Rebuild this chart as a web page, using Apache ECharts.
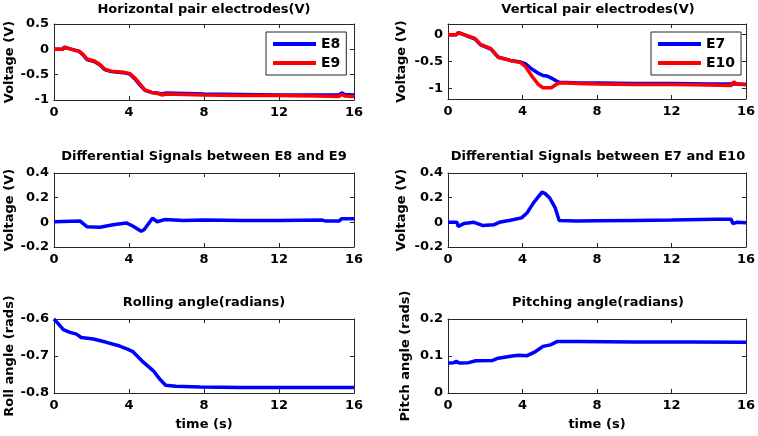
<!DOCTYPE html>
<html><head><meta charset="utf-8">
<script src="https://cdn.jsdelivr.net/npm/echarts@6/dist/echarts.min.js"></script>
<style>html,body{margin:0;padding:0;background:#fff}#c{width:758px;height:436px}</style>
</head><body><div id="c"></div>
<script>
// ---------- data ----------
const xTicks = [0, 4, 8, 12, 16];

const tH = [0, 0.45, 0.55, 0.85, 1.35, 1.55, 1.75, 2.15, 2.45, 2.7, 3.05, 3.7, 4.05, 4.3, 4.6, 4.85, 5.2, 5.5, 5.75, 6.0, 7, 8, 10, 12, 14, 15.2, 15.35, 15.5, 16];
const E8 = [0, 0, 0.04, 0.01, -0.04, -0.11, -0.2, -0.24, -0.31, -0.4, -0.44, -0.46, -0.49, -0.58, -0.71, -0.81, -0.85, -0.86, -0.88, -0.86, -0.87, -0.88, -0.89, -0.9, -0.9, -0.9, -0.86, -0.89, -0.9];
const E9 = [0, 0, 0.04, 0.01, -0.04, -0.1, -0.19, -0.23, -0.3, -0.39, -0.43, -0.45, -0.48, -0.56, -0.69, -0.8, -0.85, -0.87, -0.9, -0.88, -0.89, -0.9, -0.91, -0.91, -0.92, -0.93, -0.89, -0.92, -0.93];

const tV = [0, 0.45, 0.55, 0.85, 1.45, 1.75, 2.3, 2.7, 3.35, 3.9, 4.15, 4.5, 4.85, 5.1, 5.3, 5.55, 5.85, 6.0, 6.4, 7, 8, 10, 12, 14, 15.2, 15.35, 15.5, 16];
const E7 = [0, 0, 0.04, 0, -0.08, -0.19, -0.27, -0.42, -0.48, -0.51, -0.54, -0.64, -0.72, -0.76, -0.77, -0.81, -0.87, -0.89, -0.89, -0.9, -0.9, -0.91, -0.91, -0.92, -0.92, -0.92, -0.92, -0.93];
const E10 = [0, 0, 0.04, 0, -0.07, -0.18, -0.26, -0.42, -0.48, -0.52, -0.59, -0.77, -0.93, -0.99, -0.99, -0.99, -0.92, -0.9, -0.9, -0.91, -0.92, -0.93, -0.93, -0.94, -0.95, -0.88, -0.92, -0.93];

const tD1 = [0, 1.4, 1.5, 1.75, 2.45, 3.15, 3.85, 4.2, 4.65, 4.8, 5.0, 5.25, 5.5, 5.9, 6.9, 8, 10, 12, 14.3, 14.5, 15.2, 15.35, 16];
const diffE8E9 = [0.005, 0.01, 0.005, -0.035, -0.04, -0.02, -0.005, -0.03, -0.073, -0.06, -0.02, 0.033, 0.005, 0.022, 0.015, 0.018, 0.015, 0.015, 0.018, 0.01, 0.01, 0.03, 0.03];

const tD2 = [0, 0.48, 0.55, 0.85, 1.4, 1.85, 2.45, 2.75, 3.35, 3.95, 4.25, 4.6, 5.05, 5.2, 5.45, 5.75, 5.97, 6.9, 8, 10, 12, 14.4, 14.5, 15.2, 15.3, 15.5, 16];
const diffE7E10 = [0, 0, -0.033, -0.01, 0, -0.025, -0.02, 0, 0.017, 0.036, 0.078, 0.16, 0.245, 0.235, 0.2, 0.12, 0.015, 0.01, 0.012, 0.015, 0.018, 0.025, 0.03, 0.025, -0.01, 0, -0.003];

const tR = [0, 0.2, 0.5, 0.85, 1.2, 1.45, 2.1, 2.8, 3.5, 3.95, 4.2, 4.75, 5.3, 5.65, 5.95, 6.5, 7.8, 10, 12, 14, 16];
const roll = [-0.6, -0.611, -0.629, -0.636, -0.641, -0.65, -0.654, -0.663, -0.673, -0.682, -0.688, -0.716, -0.74, -0.763, -0.779, -0.782, -0.784, -0.785, -0.785, -0.785, -0.785];

const tP = [0, 0.3, 0.44, 0.6, 1.1, 1.5, 2.4, 2.7, 3.45, 3.8, 4.25, 4.7, 5.1, 5.5, 5.85, 7, 10, 13, 16];
const pitch = [0.081, 0.082, 0.086, 0.081, 0.082, 0.087, 0.088, 0.094, 0.1, 0.102, 0.101, 0.112, 0.126, 0.13, 0.139, 0.139, 0.138, 0.138, 0.137];

const titles = ['Horizontal pair electrodes(V)', 'Vertical pair electrodes(V)',
  'Differential Signals between E8 and E9', 'Differential Signals between E7 and E10',
  'Rolling angle(radians)', 'Pitching angle(radians)'];
const yNames = ['Voltage (V)', 'Voltage (V)', 'Voltage (V)', 'Voltage (V)', 'Roll angle (rads)', 'Pitch angle (rads)'];
const yRanges = [[-1, 0.5], [-1.2, 0.2], [-0.2, 0.4], [-0.2, 0.4], [-0.8, -0.6], [0, 0.2]];
const yTicks = [[-1, -0.5, 0, 0.5], [-1, -0.5, 0], [-0.2, 0, 0.2, 0.4], [-0.2, 0, 0.2, 0.4], [-0.8, -0.7, -0.6], [0, 0.1, 0.2]];
const xName = 'time (s)';

// ---------- layout ----------
const FONT = 'DejaVu Sans';
const TXT = '#000';
const AX = '#262626';
const grids = [
  {left: 54, top: 24, width: 300, height: 76},
  {left: 448, top: 24, width: 300, height: 75},
  {left: 54, top: 173, width: 300, height: 74},
  {left: 448, top: 173, width: 300, height: 74},
  {left: 54, top: 319, width: 300, height: 74},
  {left: 448, top: 319, width: 300, height: 74}
];
const zip = (t, v) => t.map((x, i) => [x, v[i]]);

const fmt = v => {
  const r = Math.round(v * 10) / 10;
  return r === 0 ? '0' : String(r);
};

const xAxis = [], yAxis = [], title = [];
grids.forEach((g, i) => {
  const bottomRow = i >= 4;
  const common = {
    gridIndex: i, type: 'value', min: 0, max: 16,
    axisLine: {show: true, onZero: false, lineStyle: {color: AX, width: 1}},
    axisTick: {show: true, inside: true, length: 4, lineStyle: {color: AX}, customValues: xTicks},
    splitLine: {show: false}
  };
  xAxis.push(Object.assign({}, common, {
    position: 'bottom',
    axisLabel: {show: true, margin: 6, color: TXT, fontFamily: FONT, fontWeight: 'bold', fontSize: 13, customValues: xTicks},
    name: bottomRow ? xName : '', nameLocation: 'middle', nameGap: 25,
    nameTextStyle: {color: TXT, fontFamily: FONT, fontWeight: 'bold', fontSize: 13}
  }));
  xAxis.push(Object.assign({}, common, {position: 'top', axisLabel: {show: false}}));
  const [mn, mx] = yRanges[i];
  const yc = {
    gridIndex: i, type: 'value', min: mn, max: mx,
    axisLine: {show: true, onZero: false, lineStyle: {color: AX, width: 1}},
    axisTick: {show: true, inside: true, length: 4, lineStyle: {color: AX}, customValues: yTicks[i]},
    splitLine: {show: false}
  };
  yAxis.push(Object.assign({}, yc, {
    position: 'left',
    axisLabel: {show: true, margin: 5, color: TXT, fontFamily: FONT, fontWeight: 'bold', fontSize: 13, formatter: fmt, customValues: yTicks[i]},
    name: yNames[i], nameLocation: 'middle', nameRotate: 90,
    nameGap: (i === 5 ? 36 : (i === 1 || i === 3 ? 40 : 38)),
    nameTextStyle: {color: TXT, fontFamily: FONT, fontWeight: 'bold', fontSize: 13}
  }));
  yAxis.push(Object.assign({}, yc, {position: 'right', axisLabel: {show: false}}));
  const tops = [3, 3, 150, 150, 296, 296];
  title.push({
    text: titles[i], left: g.left + g.width / 2, top: tops[i], textAlign: 'center', padding: 0,
    textStyle: {color: TXT, fontFamily: FONT, fontWeight: 'bold', fontSize: 13}
  });
});

const lineS = (name, gi, data, color) => ({
  name: name, type: 'line', xAxisIndex: gi * 2, yAxisIndex: gi * 2,
  data: data, showSymbol: false, symbol: 'none', animation: false,
  lineStyle: {color: color, width: 3.5}, itemStyle: {color: color}
});

const BLUE = '#0000ff', RED = '#ff0000';
const series = [
  lineS('E8', 0, zip(tH, E8), BLUE),
  lineS('E9', 0, zip(tH, E9), RED),
  lineS('E7', 1, zip(tV, E7), BLUE),
  lineS('E10', 1, zip(tV, E10), RED),
  lineS('d1', 2, zip(tD1, diffE8E9), BLUE),
  lineS('d2', 3, zip(tD2, diffE7E10), BLUE),
  lineS('roll', 4, zip(tR, roll), BLUE),
  lineS('pitch', 5, zip(tP, pitch), BLUE)
];

const legendBase = {
  orient: 'vertical', icon: 'rect', itemWidth: 43, itemHeight: 4, itemGap: 5,
  borderColor: AX, borderWidth: 1, backgroundColor: '#fff',
  textStyle: {color: TXT, fontFamily: FONT, fontWeight: 'bold', fontSize: 14},
  selectedMode: false
};
const legend = [
  Object.assign({}, legendBase, {data: ['E8', 'E9'], left: 266, top: 32, padding: [5, 6, 5, 7]}),
  Object.assign({}, legendBase, {data: ['E7', 'E10'], left: 651, top: 32, padding: [5, 6, 5, 7]})
];

const chart = echarts.init(document.getElementById('c'), null, {renderer: 'canvas'});
chart.setOption({
  backgroundColor: '#fff', animation: false,
  title: title, grid: grids, xAxis: xAxis, yAxis: yAxis, legend: legend, series: series
});
</script></body></html>
